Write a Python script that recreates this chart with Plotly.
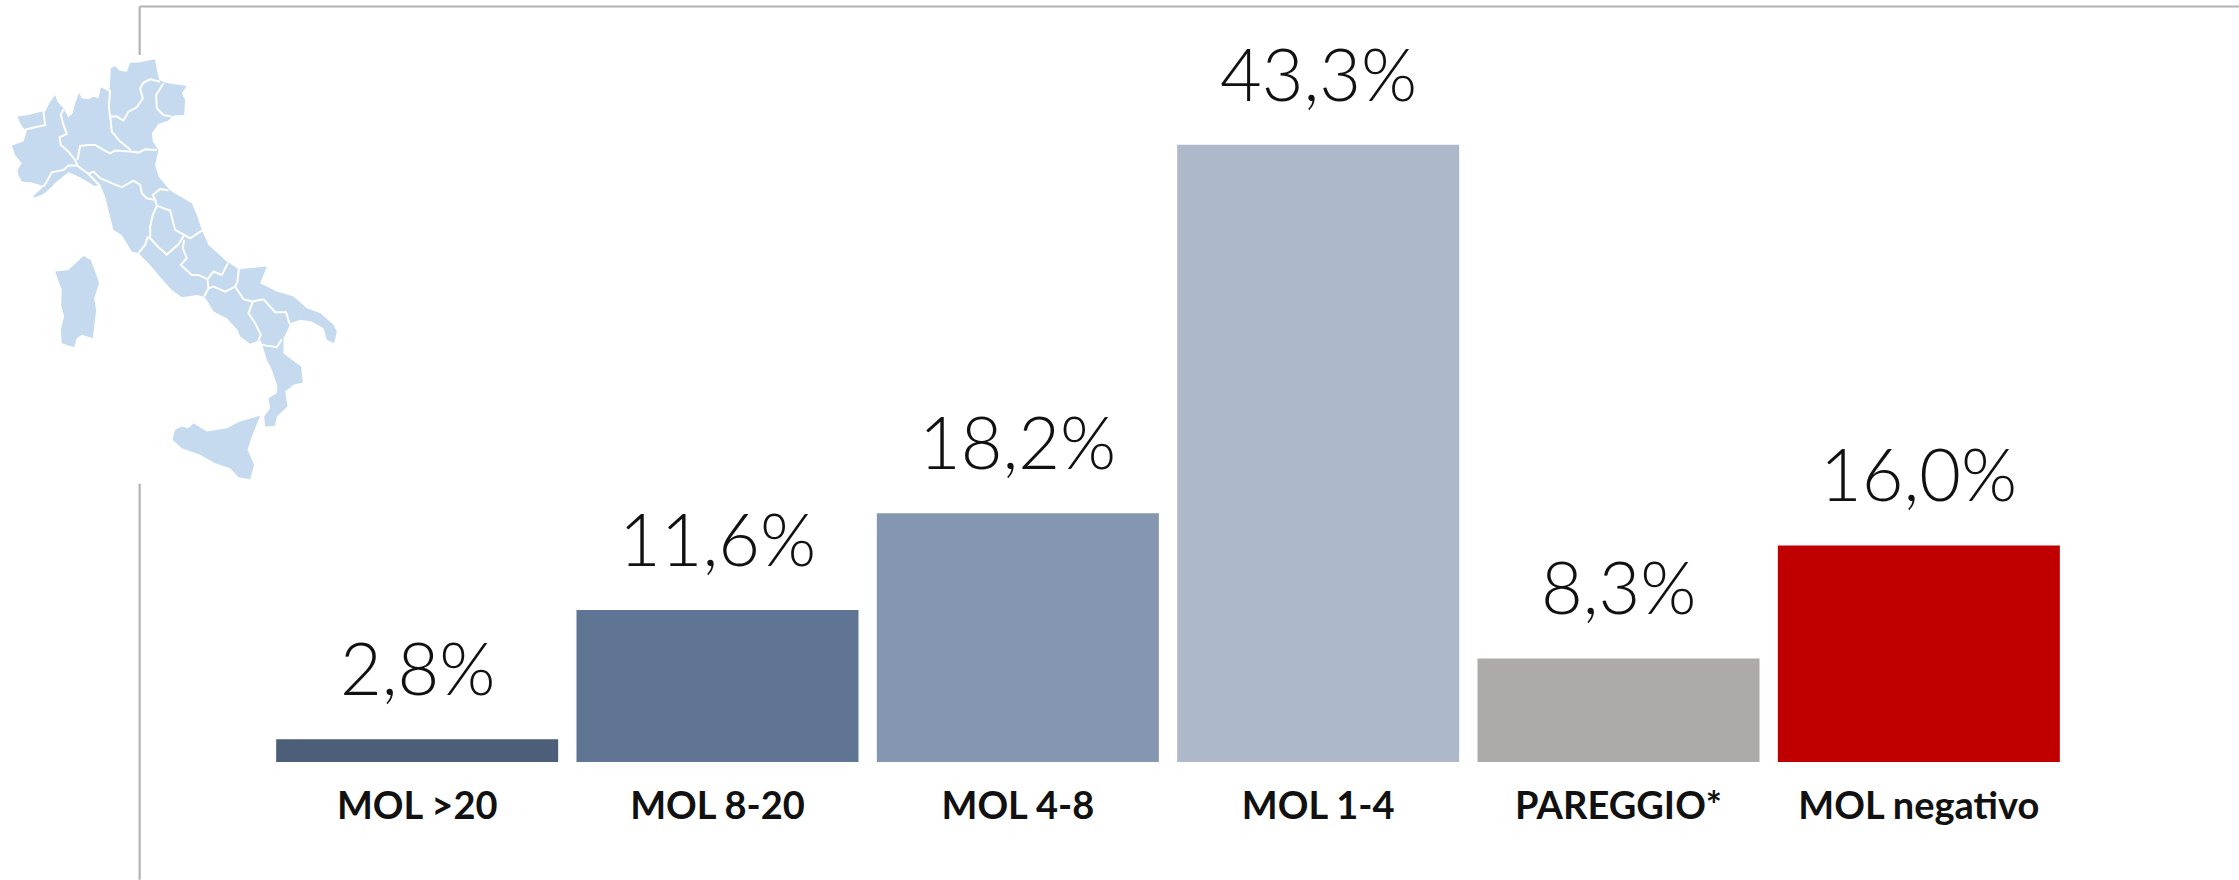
import plotly.graph_objects as go

categories = ["MOL >20", "MOL 8-20", "MOL 4-8", "MOL 1-4", "PAREGGIO*", "MOL negativo"]
values = [2.8, 11.6, 18.2, 43.3, 8.3, 16.0]
value_labels = ["2,8%", "11,6%", "18,2%", "43,3%", "8,3%", "16,0%"]
bar_colors = ["#4d5f78", "#607594", "#8496b0", "#adb9cb", "#aeaaaa", "#c00000"]

W, H = 2239, 880
L, R = 266.85, 2068.65
BASE = 762.3

# Decorative map of Italy: outlines traced in pixels x 3
land = [
    [(52,350),(85,345),(122,335),(135,335),(150,305),(165,285),(172,305),(190,325),(205,352),(218,340),(225,310),(237,278),(245,295),(265,298),(280,290),(295,295),(302,262),(328,275),(332,205),(345,198),(358,212),(380,215),(390,188),(420,187),(465,178),(470,210),(478,240),(495,248),(560,258),(545,280),(555,300),(552,345),(520,347),(505,362),(475,372),(455,400),(458,425),(475,450),(465,495),(475,530),(510,572),(575,610),(590,645),(605,690),(625,735),(680,785),(715,808),(800,800),(780,850),(830,875),(880,890),(920,925),(960,940),(1000,975),(1010,995),(1002,1030),(980,1020),(970,985),(935,965),(900,960),(870,970),(865,985),(850,1015),(850,1060),(875,1080),(903,1100),(908,1148),(880,1155),(855,1175),(862,1220),(830,1250),(825,1278),(795,1280),(792,1250),(810,1225),(805,1195),(830,1180),(832,1160),(815,1110),(800,1080),(788,1040),(780,1020),(750,1032),(720,1010),(712,990),(680,955),(640,935),(620,900),(610,890),(590,885),(545,892),(515,870),(475,825),(450,795),(415,760),(395,755),(365,705),(340,690),(325,630),(315,590),(300,555),(282,558),(262,545),(235,530),(205,517),(170,545),(150,565),(130,582),(105,593),(98,590),(125,565),(130,558),(95,548),(65,545),(55,525),(52,510),(65,490),(45,465),(35,437),(70,425),(80,395),(70,385),(60,370)],
    [(780,1248),(755,1310),(742,1350),(762,1395),(750,1438),(715,1432),(690,1405),(645,1390),(600,1365),(545,1345),(517,1320),(525,1290),(545,1280),(565,1285),(580,1270),(620,1295),(680,1285),(720,1265)],
    [(250,768),(272,780),(285,815),(297,850),(282,895),(288,930),(278,1015),(245,1005),(230,1015),(222,1042),(185,1030),(182,990),(192,950),(183,915),(185,870),(165,815),(205,810)],
]
borders = [
    [(130,335),(135,375),(105,382),(80,388),(72,392)],
    [(190,328),(182,345),(190,375),(200,402),(178,412),(182,435),(205,455),(225,480),(232,497)],
    [(232,497),(205,497),(190,510),(155,517),(140,545),(130,560)],
    [(232,480),(240,438),(262,435),(285,435),(305,447),(330,460),(345,452),(390,455),(415,458),(435,448),(470,450)],
    [(330,270),(326,320),(332,365),(335,395),(360,425),(392,450)],
    [(332,350),(350,350),(370,362),(385,335),(410,322),(428,295),(420,265),(430,248),(450,238),(480,245)],
    [(490,250),(468,285),(470,325),(490,345),(515,350)],
    [(232,497),(265,522),(280,515),(300,535),(340,552),(365,562),(400,542),(420,555),(425,580),(440,595),(465,600),(458,585),(480,567),(505,572)],
    [(265,522),(300,558)],
    [(465,600),(470,618),(458,645),(450,680),(450,715),(442,712),(435,735),(415,760)],
    [(470,618),(510,632),(525,690),(552,705)],
    [(450,715),(475,742),(500,764),(535,733),(552,705)],
    [(552,705),(570,715),(605,692)],
    [(552,720),(548,745),(560,775),(542,795),(575,825),(595,825),(622,838)],
    [(622,838),(640,815),(665,825),(683,790)],
    [(622,838),(625,865),(612,890)],
    [(625,865),(640,860),(675,875),(705,860)],
    [(716,808),(712,845),(705,860)],
    [(705,860),(730,898),(755,905),(790,898)],
    [(790,898),(825,937),(858,937),(868,972)],
    [(758,905),(745,940),(765,970),(782,1005),(775,1022)],
    [(785,1035),(830,1042),(845,1018)],
]


def px(x):
    return (x - L) / (R - L)


def py(y):
    return (BASE - y) / BASE


def path(pts, closed):
    d = "M" + " L".join(f"{px(a/3):.5f},{py(b/3):.5f}" for a, b in pts)
    return d + (" Z" if closed else "")


fig = go.Figure(go.Bar(
    x=categories, y=values, marker=dict(color=bar_colors, line=dict(width=0)),
    cliponaxis=True, hoverinfo="skip", showlegend=False,
))

shapes = []
frame = "#b3b3b3"
for x0, y0, x1, y1 in [(139.5, 6.5, W, 6.5), (139.5, 6.5, 139.5, 55), (139.5, 484, 139.5, H)]:
    shapes.append(dict(type="line", xref="paper", yref="paper", x0=px(x0), y0=py(y0), x1=px(x1), y1=py(y1),
                       line=dict(color=frame, width=2.2), layer="below"))
for pts in land:
    shapes.append(dict(type="path", path=path(pts, True), xref="paper", yref="paper", layer="above",
                       fillcolor="#c5daee", line=dict(width=0)))
for pts in borders:
    shapes.append(dict(type="path", path=path(pts, False), xref="paper", yref="paper", layer="above",
                       line=dict(color="white", width=2)))

annotations = [
    dict(x=c, y=v, text=t, showarrow=False, xanchor="center", yanchor="bottom", yshift=27,
         font=dict(family="Lato", size=72, color="#111111", weight=300))
    for c, v, t in zip(categories, values, value_labels)
]

fig.update_layout(
    width=W, height=H, autosize=False,
    margin=dict(l=L, r=W - R, t=0, b=H - BASE, pad=0),
    paper_bgcolor="white", plot_bgcolor="white",
    bargap=0.061, shapes=shapes, annotations=annotations,
    xaxis=dict(showgrid=False, zeroline=False, showline=False, ticks="outside", ticklen=10,
               tickcolor="rgba(0,0,0,0)", tickangle=0, fixedrange=True,
               tickfont=dict(family="Lato", size=38, color="#111111", weight=700)),
    yaxis=dict(range=[1.245, 53.17], visible=False, fixedrange=True),
)
fig.write_html("out.html", config={"displayModeBar": False},
               post_script="document.body.style.margin='0';")
